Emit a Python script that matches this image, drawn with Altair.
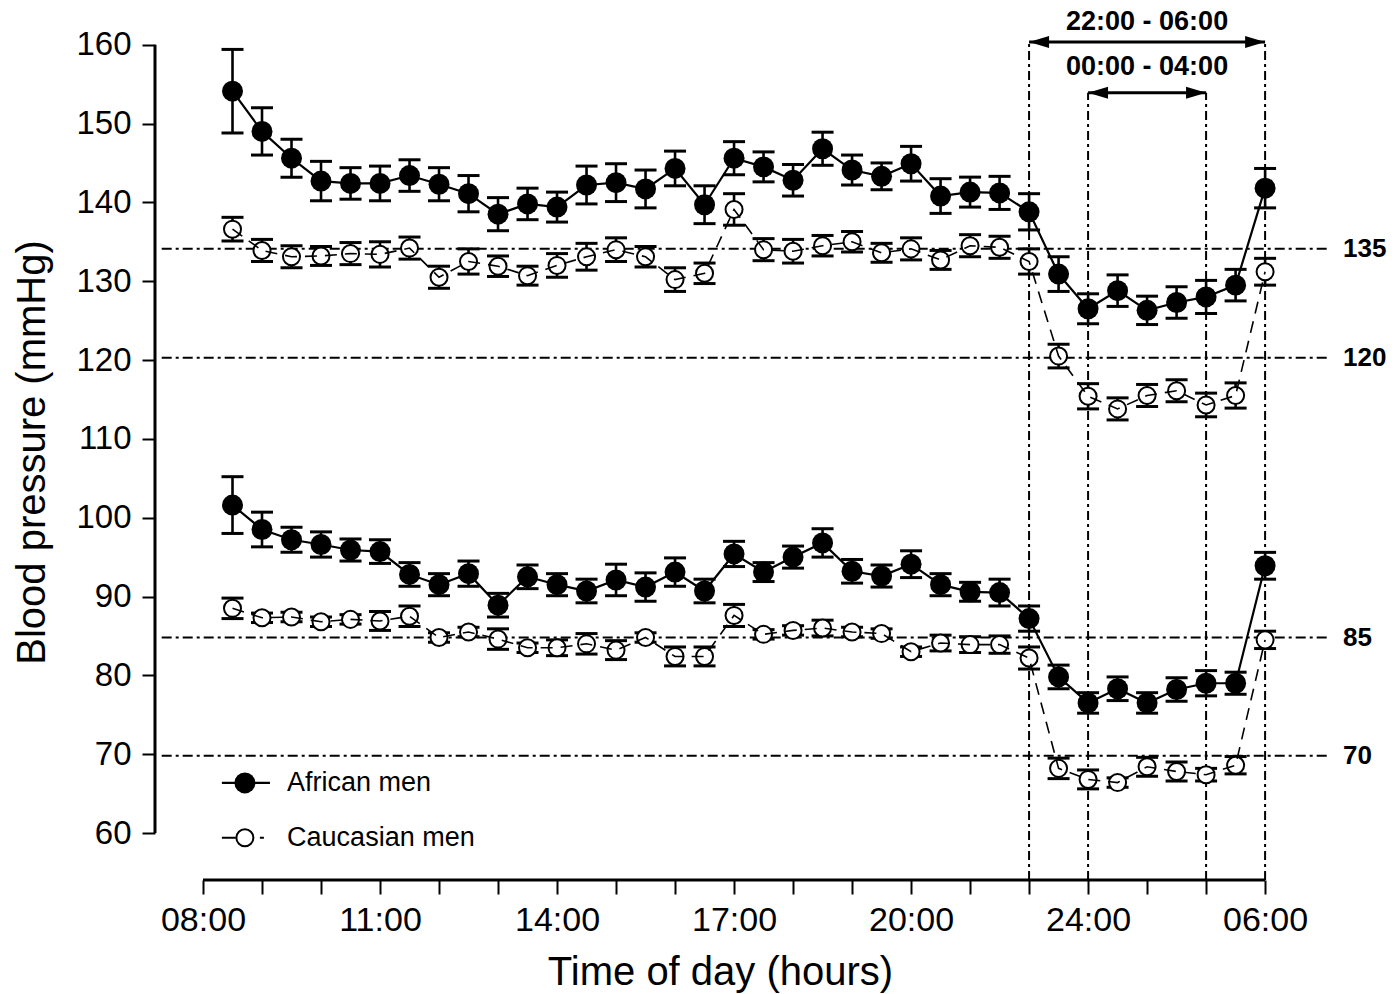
import altair as alt
import pandas as pd

# ---------------- data ----------------
# x index: 0 = 08:00; daytime every 30 min up to 22:00 (idx 28), then hourly to 06:00 (idx 36)
x_idx = list(range(1, 37))

sbp_african = [154.1, 149.0, 145.6, 142.7, 142.4, 142.4, 143.4, 142.3, 141.1, 138.5,
               139.8, 139.4, 142.2, 142.5, 141.7, 144.3, 139.7, 145.6, 144.5, 142.8,
               146.8, 144.1, 143.3, 144.9, 140.8, 141.3, 141.2, 138.8, 130.9, 126.5,
               128.8, 126.3, 127.3, 128.0, 129.5, 141.8]
sbp_african_se = [5.3, 3.0, 2.4, 2.5, 2.0, 2.2, 2.0, 2.1, 2.3, 2.1,
                  2.0, 1.9, 2.4, 2.4, 2.4, 2.2, 2.4, 2.1, 1.9, 2.0,
                  2.1, 1.9, 1.7, 2.2, 2.2, 1.9, 2.1, 2.3, 2.2, 1.9,
                  2.0, 1.8, 2.0, 2.1, 2.0, 2.5]

sbp_caucasian = [136.6, 133.9, 133.1, 133.2, 133.5, 133.4, 134.2, 130.5, 132.5, 131.9,
                 130.7, 132.0, 133.1, 134.0, 133.1, 130.2, 131.0, 139.1, 134.0, 133.8,
                 134.5, 135.0, 133.6, 134.1, 132.7, 134.5, 134.3, 132.5, 120.5, 115.4,
                 113.8, 115.5, 116.1, 114.3, 115.5, 131.2]
sbp_caucasian_se = [1.5, 1.4, 1.4, 1.2, 1.4, 1.6, 1.4, 1.4, 1.6, 1.3,
                    1.2, 1.5, 1.7, 1.5, 1.3, 1.5, 1.3, 2.0, 1.4, 1.5,
                    1.3, 1.3, 1.2, 1.4, 1.2, 1.4, 1.4, 1.6, 1.5, 1.6,
                    1.4, 1.4, 1.4, 1.5, 1.6, 1.7]

dbp_african = [101.6, 98.5, 97.2, 96.6, 95.9, 95.7, 92.8, 91.5, 92.9, 88.9,
               92.5, 91.5, 90.7, 92.1, 91.2, 93.1, 90.7, 95.4, 93.1, 95.0,
               96.8, 93.2, 92.6, 94.1, 91.5, 90.6, 90.5, 87.2, 79.8, 76.5,
               78.3, 76.5, 78.2, 79.0, 79.0, 93.9]
dbp_african_se = [3.6, 2.2, 1.6, 1.6, 1.4, 1.5, 1.5, 1.4, 1.6, 1.5,
                  1.5, 1.4, 1.5, 2.0, 1.8, 1.8, 1.5, 1.6, 1.2, 1.4,
                  1.8, 1.5, 1.4, 1.7, 1.4, 1.2, 1.7, 1.6, 1.5, 1.3,
                  1.5, 1.3, 1.5, 1.6, 1.4, 1.7]

dbp_caucasian = [88.5, 87.3, 87.4, 86.8, 87.1, 86.9, 87.5, 84.8, 85.5, 84.6,
                 83.5, 83.5, 84.0, 83.2, 84.8, 82.4, 82.4, 87.6, 85.2, 85.7,
                 86.0, 85.5, 85.3, 83.0, 84.1, 83.9, 83.9, 82.2, 68.2, 66.8,
                 66.4, 68.4, 67.8, 67.4, 68.6, 84.5]
dbp_caucasian_se = [1.3, 0.6, 0.6, 0.6, 0.6, 1.2, 1.3, 0.6, 0.6, 1.3,
                    0.6, 1.0, 1.3, 1.2, 0.6, 1.2, 1.2, 1.4, 0.6, 0.6,
                    1.0, 0.6, 0.6, 0.6, 1.0, 1.0, 1.1, 1.4, 1.3, 1.2,
                    0.6, 1.2, 1.2, 0.8, 1.1, 1.1]

x_tick_values = list(range(0, 37, 2))
x_label_pos = [0, 6, 12, 18, 24, 30, 36]
x_label_text = ["08:00", "11:00", "14:00", "17:00", "20:00", "24:00", "06:00"]
y_tick_values = list(range(60, 161, 10))

ref_text = ["135", "120", "85", "70"]
ref_pos = [134.1, 120.3, 84.8, 69.8]

night_x = [28, 30, 34, 36]
night_top = [160.35, 153.9, 153.9, 160.35]

span_text = ["22:00 - 06:00", "00:00 - 04:00"]
span_start = [28, 30]
span_end = [36, 34]
span_arrow_y = [160.35, 153.9]
span_text_y = [162.9, 157.2]

legend_labels = ["African men", "Caucasian men"]
legend_y = [66.35, 59.4]

# ---------------- scales / axes ----------------
X_MIN, X_MAX = -1.627, 38.2
Y_MIN, Y_MAX = 54.04, 164.4
FONT = "Liberation Sans"

xs = alt.Scale(domain=[X_MIN, X_MAX], nice=False, zero=False)
ys = alt.Scale(domain=[Y_MIN, Y_MAX], nice=False, zero=False)

label_expr = ""
for p, t in zip(x_label_pos, x_label_text):
    label_expr += f"datum.value == {p} ? '{t}' : "
label_expr += "''"

x_axis = alt.Axis(values=x_tick_values, labelExpr=label_expr, domain=False, grid=False,
                  tickSize=14, tickWidth=2, tickColor="black", labelFontSize=34,
                  labelColor="black", labelPadding=9, labelFlush=False, labelOverlap=False,
                  labelFont=FONT, titleFont=FONT, titleFontSize=40, titleFontWeight="normal",
                  titleColor="black", titlePadding=15, titleX=565)
y_axis = alt.Axis(values=y_tick_values, domain=False, grid=False, tickSize=13, tickWidth=2,
                  tickColor="black", labelFontSize=33, labelColor="black", labelPadding=11,
                  labelFont=FONT, titleFont=FONT, titleFontSize=40, titleFontWeight="normal",
                  titleColor="black", titlePadding=23, titleY=442)


def X(f):
    return alt.X(f, type="quantitative", scale=xs, axis=x_axis, title="Time of day (hours)")


def Y(f):
    return alt.Y(f, type="quantitative", scale=ys, axis=y_axis, title="Blood pressure (mmHg)")


# ---------------- tables ----------------
def series(group, measure, means, ses):
    d = pd.DataFrame({"idx": x_idx, "mean": means, "se": ses})
    d["group"] = group
    d["measure"] = measure
    d["lo"] = d["mean"] - d["se"]
    d["hi"] = d["mean"] + d["se"]
    return d


df = pd.concat([
    series("African men", "SBP", sbp_african, sbp_african_se),
    series("African men", "DBP", dbp_african, dbp_african_se),
    series("Caucasian men", "SBP", sbp_caucasian, sbp_caucasian_se),
    series("Caucasian men", "DBP", dbp_caucasian, dbp_caucasian_se),
], ignore_index=True)
af = df[df["group"] == "African men"]
ca = df[df["group"] == "Caucasian men"]

ref_df = pd.DataFrame({"y": ref_pos, "label": ref_text, "x1": -1.4, "x2": X_MAX, "xl": 38.64})
night_df = pd.DataFrame({"x": night_x, "y1": Y_MIN, "y2": night_top})
span_df = pd.DataFrame({"x1": span_start, "x2": span_end, "y": span_arrow_y,
                        "ty": span_text_y, "text": span_text})
span_df["xm"] = (span_df["x1"] + span_df["x2"]) / 2
xaxis_df = pd.DataFrame({"x1": [0], "x2": [36], "y": [Y_MIN]})
yaxis_df = pd.DataFrame({"x": [X_MIN], "y1": [60], "y2": [160]})
leg_df = pd.DataFrame({"label": legend_labels, "y": legend_y, "x1": 0.64, "x2": 2.27,
                       "xm": 1.42, "xt": 2.85})

# ---------------- layers ----------------
dashdot = [10, 4, 3, 4]

h_lines = alt.Chart(ref_df).mark_rule(color="black", strokeWidth=2, strokeDash=dashdot).encode(
    x=X("x1"), x2=alt.X2("x2"), y=Y("y"))
h_labels = alt.Chart(ref_df).mark_text(align="left", baseline="middle", fontSize=26,
                                       fontWeight="bold", color="black", font=FONT).encode(
    x=X("xl"), y=Y("y"), text="label:N")
v_lines = alt.Chart(night_df).mark_rule(color="black", strokeWidth=2, strokeDash=[9, 4, 3, 4]).encode(
    x=X("x"), y=Y("y1"), y2=alt.Y2("y2"))

err_rule = alt.Chart(df).mark_rule(color="black", strokeWidth=2.6).encode(
    x=X("idx"), y=Y("lo"), y2=alt.Y2("hi"))
cap_lo = alt.Chart(df).mark_tick(color="black", orient="horizontal", size=22, thickness=3,
                                 opacity=1).encode(x=X("idx"), y=Y("lo"))
cap_hi = alt.Chart(df).mark_tick(color="black", orient="horizontal", size=22, thickness=3,
                                 opacity=1).encode(x=X("idx"), y=Y("hi"))

line_af = alt.Chart(af).mark_line(color="black", strokeWidth=2.2).encode(
    x=X("idx"), y=Y("mean"), detail="measure:N")
pts_ca = alt.Chart(ca).mark_point(shape="circle", filled=True, fill="white", stroke="black",
                                  strokeWidth=2, size=290, opacity=1).encode(x=X("idx"), y=Y("mean"))
line_ca = alt.Chart(ca).mark_line(color="black", strokeWidth=1.6, strokeDash=[12, 8]).encode(
    x=X("idx"), y=Y("mean"), detail="measure:N")
pts_af = alt.Chart(af).mark_point(shape="circle", filled=True, color="black", size=440,
                                  opacity=1).encode(x=X("idx"), y=Y("mean"))

x_axis_line = alt.Chart(xaxis_df).mark_rule(color="black", strokeWidth=3).encode(
    x=X("x1"), x2=alt.X2("x2"), y=Y("y"))
y_axis_line = alt.Chart(yaxis_df).mark_rule(color="black", strokeWidth=3).encode(
    x=X("x"), y=Y("y1"), y2=alt.Y2("y2"))

span_rule = alt.Chart(span_df).mark_rule(color="black", strokeWidth=3).encode(
    x=X("x1"), x2=alt.X2("x2"), y=Y("y"))
head_left = alt.Chart(span_df).mark_point(shape="M 0 0 L 2 -0.6 L 2 0.6 Z", filled=True,
                                          color="black", size=400, opacity=1).encode(
    x=X("x1"), y=Y("y"))
head_right = alt.Chart(span_df).mark_point(shape="M 0 0 L -2 -0.6 L -2 0.6 Z", filled=True,
                                           color="black", size=400, opacity=1).encode(
    x=X("x2"), y=Y("y"))
span_label = alt.Chart(span_df).mark_text(align="center", baseline="middle", fontSize=27,
                                          fontWeight="bold", color="black", font=FONT).encode(
    x=X("xm"), y=Y("ty"), text="text:N")

leg_af = leg_df[leg_df["label"] == legend_labels[0]]
leg_ca = leg_df[leg_df["label"] == legend_labels[1]]
leg_line_af = alt.Chart(leg_af).mark_rule(color="black", strokeWidth=2.2).encode(
    x=X("x1"), x2=alt.X2("x2"), y=Y("y"))
leg_line_ca = alt.Chart(leg_ca).mark_rule(color="black", strokeWidth=1.8,
                                          strokeDash=[14, 24, 4, 100]).encode(
    x=X("x1"), x2=alt.X2("x2"), y=Y("y"))
leg_pt_af = alt.Chart(leg_af).mark_point(shape="circle", filled=True, color="black", size=440,
                                         opacity=1).encode(x=X("xm"), y=Y("y"))
leg_pt_ca = alt.Chart(leg_ca).mark_point(shape="circle", filled=False, color="black",
                                         strokeWidth=2, size=290, opacity=1).encode(
    x=X("xm"), y=Y("y"))
leg_text = alt.Chart(leg_df).mark_text(align="left", baseline="middle", fontSize=27,
                                       color="black", font=FONT).encode(
    x=X("xt"), y=Y("y"), text="label:N")

chart = alt.layer(
    h_lines, v_lines, err_rule, cap_lo, cap_hi, line_af, pts_ca, line_ca, pts_af,
    x_axis_line, y_axis_line, span_rule, head_left, head_right, span_label, h_labels,
    leg_line_af, leg_line_ca, leg_pt_af, leg_pt_ca, leg_text,
).properties(
    width=1175, height=870,
    autosize=alt.AutoSizeParams(type="none"),
    padding={"left": 155, "top": 10, "right": 69, "bottom": 114},
).configure(
    font=FONT, background="white", view=alt.ViewConfig(stroke=None)
)

chart.save("out.html", embed_options={"renderer": "svg", "actions": False})
